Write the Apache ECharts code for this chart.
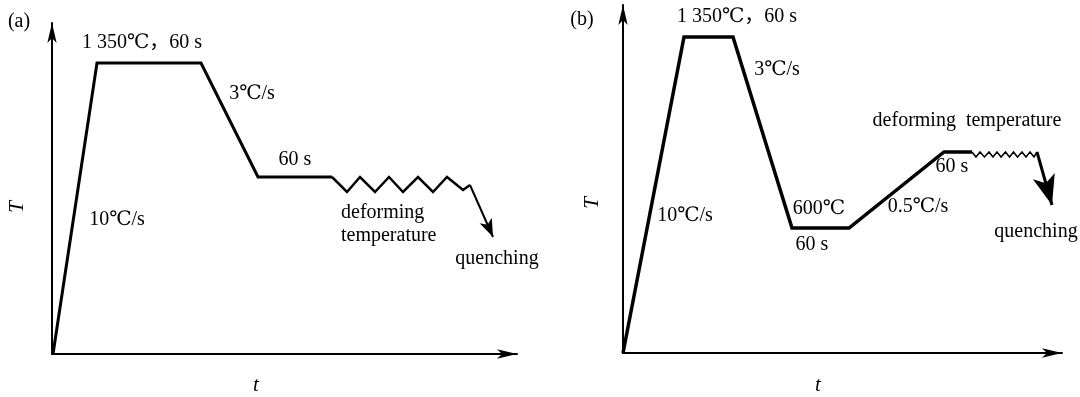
<!DOCTYPE html>
<html>
<head>
<meta charset="utf-8">
<script src="https://cdn.jsdelivr.net/npm/echarts@6/dist/echarts.min.js"></script>
<style>html,body{margin:0;padding:0;background:#fff}#c{width:1080px;height:397px}</style>
</head>
<body>
<div id="c"></div>
<script>
// Panel (a): schematic thermal path [t, T] (arbitrary units)
const pathA = [[1,0],[45,291],[149,291],[206,177],[280,177]];
const zigzagA = [[280,177],[295,162],[308,177],[323,162],[337,177],[351,162],[366,177],[381,162],[395,177],[411,164],[418,169]];
const quenchA = [[418,169],[441,117]];
// Panel (b)
const pathB = [[0,0],[61,316],[110,316],[169,125],[226,125],[321,201],[349,201]];
const zigzagB = [[349,201],[353,196],[357,201],[361.5,196],[366,201],[370,196],[374,201],[378,196],[382.5,201],[386.5,196],[390.5,201],[394.5,196],[399,201],[403,196],[407,201],[411,196],[414,201]];
const quenchB = [[414,201],[429,148]];
// Labels
const labelsA = [
  {text:'(a)', x:19, y:22},
  {text:'1 350℃，60 s', x:142, y:43},
  {text:'3℃/s', x:252, y:94},
  {text:'10℃/s', x:117, y:220},
  {text:'60 s', x:295, y:160},
  {text:'deforming', x:341, y:213, align:'left'},
  {text:'temperature', x:341, y:236, align:'left'},
  {text:'quenching', x:497, y:259}
];
const labelsB = [
  {text:'(b)', x:582, y:20},
  {text:'1 350℃，60 s', x:737, y:17},
  {text:'3℃/s', x:777, y:70},
  {text:'10℃/s', x:685, y:216},
  {text:'600℃', x:819, y:209},
  {text:'60 s', x:812, y:245},
  {text:'0.5℃/s', x:918, y:207},
  {text:'60 s', x:952, y:167},
  {text:'deforming  temperature', x:967, y:121},
  {text:'quenching', x:1036, y:232}
];
const axisNames = [
  {text:'T', x:17, y:207, rot:true},
  {text:'t', x:256, y:385},
  {text:'T', x:592, y:203, rot:true},
  {text:'t', x:818, y:385}
];

const FONT = "'Liberation Serif', 'DejaVu Serif', 'Noto Sans CJK SC', serif";
const chart = echarts.init(document.getElementById('c'), null, {renderer:'canvas'});

function axisX(gi, max, sym){
  return {type:'value', gridIndex:gi, min:0, max:max,
    axisLine:{show:true, onZero:false, symbol:['none','arrow'], symbolSize:sym, lineStyle:{color:'#000', width:2}},
    axisTick:{show:false}, axisLabel:{show:false}, splitLine:{show:false}};
}
function line(gi, data, w){
  return {type:'line', xAxisIndex:gi, yAxisIndex:gi, data:data, showSymbol:false, symbol:'none', clip:false,
    lineStyle:{color:'#000', width:w, join:'miter', cap:'butt'}, silent:true, animation:false};
}
function arrow(gi, data, w, size){
  const s = line(gi, [], w);
  s.markLine = {silent:true, animation:false, symbol:['none','arrow'], symbolSize:size,
    label:{show:false}, lineStyle:{type:'solid', color:'#000', width:w},
    data:[[{coord:data[0]},{coord:data[1]}]]};
  return s;
}
const texts = [];
labelsA.concat(labelsB).forEach(l => texts.push({type:'text', x:l.x, y:l.y, silent:true,
  style:{text:l.text, fill:'#000', font:'20px ' + FONT, align:l.align || 'center', verticalAlign:'middle'}}));
axisNames.forEach(l => texts.push({type:'text', x:l.x, y:l.y, rotation:l.rot ? Math.PI/2 : 0, silent:true,
  style:{text:l.text, fill:'#000', font:'italic 21px ' + FONT, align:'center', verticalAlign:'middle'}}));

chart.setOption({
  animation:false,
  backgroundColor:'#fff',
  grid:[
    {left:52, top:23, width:465, height:331},
    {left:623, top:5, width:439, height:348}
  ],
  xAxis:[axisX(0, 465, [7,20]), axisX(1, 439, [7,20])],
  yAxis:[axisX(0, 331, [7,20]), axisX(1, 348, [7,20])],
  series:[
    line(0, pathA, 3),
    line(0, zigzagA, 2.5),
    arrow(0, quenchA, 2, [10,18]),
    line(1, pathB, 3.5),
    line(1, zigzagB, 1.5),
    arrow(1, quenchB, 3, [17,30])
  ],
  graphic: texts
});
</script>
</body>
</html>
